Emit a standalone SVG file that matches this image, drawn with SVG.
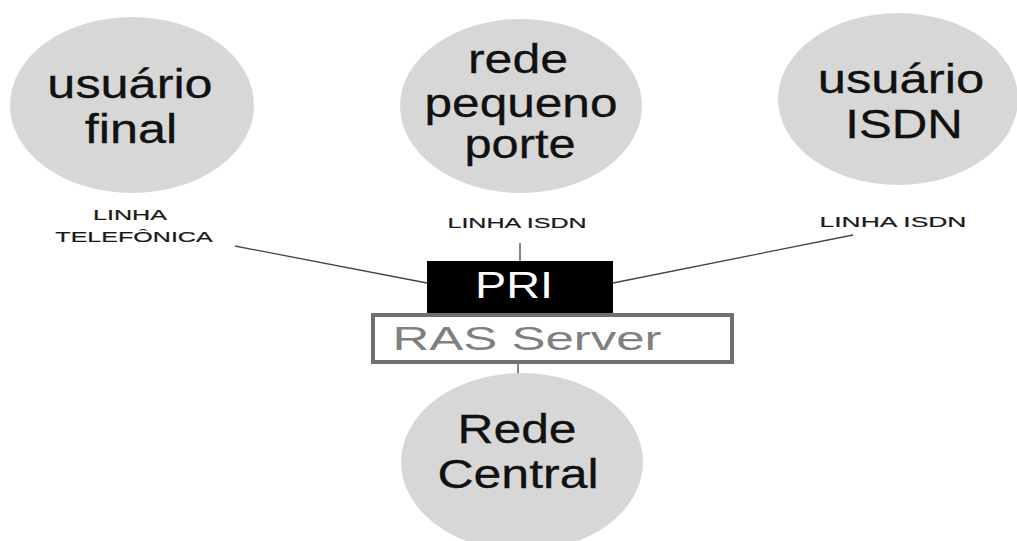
<svg xmlns="http://www.w3.org/2000/svg" width="1017" height="541" viewBox="0 0 1017 541">
  <style>
    .bubble { fill: #d7d7d7; }
    .big { font-family: "Liberation Sans", Arial, sans-serif; font-size: 40px; fill: #111; stroke: #111; stroke-width: 0.3; text-anchor: middle; }
    .small { font-family: "Liberation Sans", Arial, sans-serif; font-size: 15px; fill: #1a1a1a; stroke: #1a1a1a; stroke-width: 0.2; text-anchor: middle; }
    .link { stroke: #444; stroke-width: 1.3; fill: none; }
  </style>
  <rect width="1017" height="541" fill="#ffffff"/>

  <!-- connectors -->
  <g id="connectors">
    <line class="link" x1="235" y1="246" x2="427" y2="283"/>
    <line class="link" x1="520" y1="243" x2="520" y2="261"/>
    <line class="link" x1="613" y1="283" x2="853" y2="235"/>
    <line class="link" x1="518" y1="363" x2="518" y2="382"/>
  </g>

  <g id="usuario-final">
    <ellipse class="bubble" cx="132" cy="105" rx="122" ry="88"/>
    <text class="big" transform="translate(130 98) scale(1.26 1)">usuário</text>
    <text class="big" transform="translate(131 143) scale(1.26 1)">final</text>
    <text class="small" transform="translate(130 220) scale(1.3 1)" textLength="57" lengthAdjust="spacingAndGlyphs">LINHA</text>
    <text class="small" transform="translate(134 242) scale(1.3 1)" textLength="121" lengthAdjust="spacingAndGlyphs">TELEFÔNICA</text>
  </g>

  <g id="rede-pequeno-porte">
    <ellipse class="bubble" cx="521" cy="106" rx="121" ry="87"/>
    <text class="big" transform="translate(518 73) scale(1.25 1)">rede</text>
    <text class="big" transform="translate(521 117) scale(1.24 1)">pequeno</text>
    <text class="big" transform="translate(520 158) scale(1.22 1)">porte</text>
    <text class="small" transform="translate(517 228) scale(1.3 1)" textLength="107" lengthAdjust="spacingAndGlyphs">LINHA ISDN</text>
  </g>

  <g id="usuario-isdn">
    <ellipse class="bubble" cx="898" cy="99" rx="120" ry="86"/>
    <text class="big" transform="translate(901 93) scale(1.27 1)">usuário</text>
    <text class="big" transform="translate(904 138) scale(1.23 1)">ISDN</text>
    <text class="small" transform="translate(893 227) scale(1.3 1)" textLength="113" lengthAdjust="spacingAndGlyphs">LINHA ISDN</text>
  </g>

  <g id="pri">
    <rect x="427" y="261" width="186" height="53" fill="#000"/>
    <text transform="translate(514 298) scale(1.3 1)" font-family="Liberation Sans, Arial, sans-serif" font-size="36" fill="#fff" text-anchor="middle">PRI</text>
  </g>

  <g id="ras-server">
    <rect x="373" y="315" width="359" height="47" fill="#fff" stroke="#707070" stroke-width="4"/>
    <text transform="translate(527 350) scale(1.3 1)" font-family="Liberation Sans, Arial, sans-serif" font-size="34" fill="#808080" text-anchor="middle" textLength="207" lengthAdjust="spacingAndGlyphs">RAS Server</text>
  </g>

  <g id="rede-central">
    <ellipse class="bubble" cx="522" cy="462" rx="121" ry="89"/>
    <text class="big" transform="translate(517 443) scale(1.245 1)">Rede</text>
    <text class="big" transform="translate(518 488) scale(1.25 1)">Central</text>
  </g>
</svg>
